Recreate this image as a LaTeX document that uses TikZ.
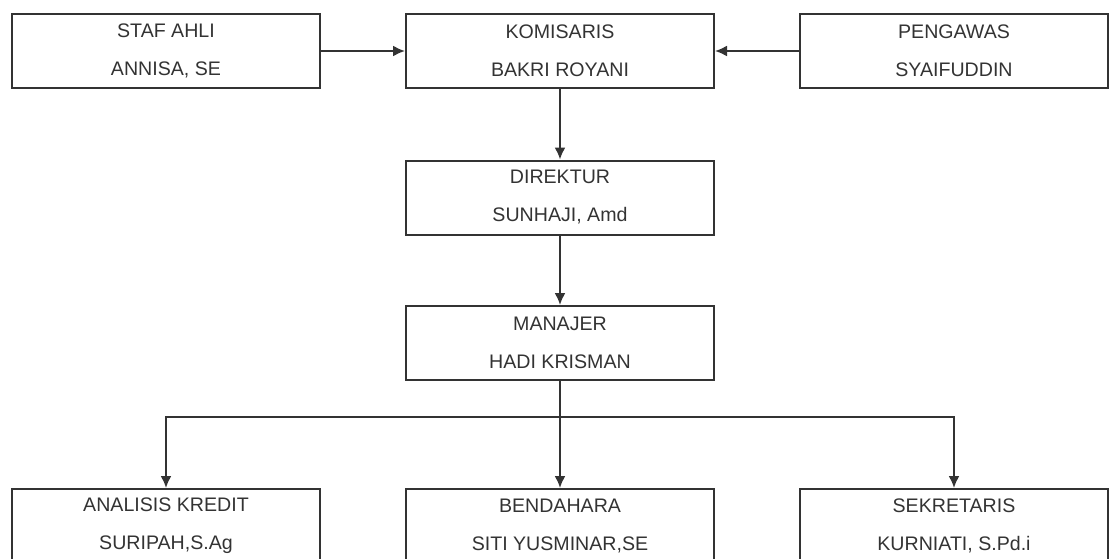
\documentclass[tikz,border=0pt]{standalone}
\usepackage{fontspec}
\setmainfont{Liberation Sans}
\usetikzlibrary{arrows.meta}

\tikzset{
  jabatan/.style={draw=black!80, line width=1pt, rectangle, minimum width=154pt, minimum height=37pt,
    align=center, text=black!80, font=\fontsize{9.8}{11}\selectfont, inner sep=0pt},
  garis/.style={draw=black!80, line width=1pt, -{Latex[length=6pt,width=5.5pt]}}
}

\begin{document}
\begin{tikzpicture}[x=0.5pt, y=-0.5pt]
\useasboundingbox (0,0) rectangle (1109,558);
\clip (0,0) rectangle (1109,558);
% baris atas
\node[jabatan] (staf) at (166,51) {STAF AHLI\\[8pt]ANNISA, SE};
\node[jabatan] (komisaris) at (560,51) {KOMISARIS\\[8pt]BAKRI ROYANI};
\node[jabatan] (pengawas) at (954,51) {PENGAWAS\\[8pt]SYAIFUDDIN};
% pimpinan
\node[jabatan] (direktur) at (560,197.5) {DIREKTUR\\[8pt]SUNHAJI, Amd};
\node[jabatan] (manajer) at (560,343) {MANAJER\\[8pt]HADI KRISMAN};
% baris bawah
\node[jabatan] (analis) at (166,526) {ANALISIS KREDIT\\[8pt]SURIPAH,S.Ag};
\node[jabatan] (bendahara) at (560,526) {BENDAHARA\\[8pt]SITI YUSMINAR,SE};
\node[jabatan] (sekretaris) at (954,526) {SEKRETARIS\\[8pt]KURNIATI, S.Pd.i};
\coordinate (bus) at (560,417);

\draw[garis] (staf) -- (komisaris);
\draw[garis] (pengawas) -- (komisaris);
\draw[garis] (komisaris) -- (direktur);
\draw[garis] (direktur) -- (manajer);
\draw[garis] (manajer) -- (bendahara);
\draw[garis] (manajer.south) -- (bus) -| (analis.north);
\draw[garis] (bus) -| (sekretaris.north);
\end{tikzpicture}
\end{document}
